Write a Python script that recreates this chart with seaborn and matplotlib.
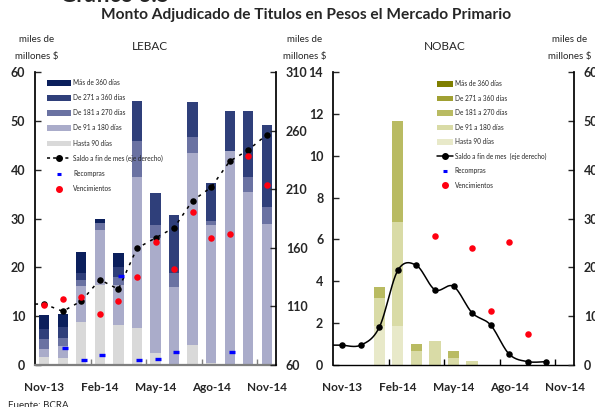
import numpy as np
import seaborn as sns
import matplotlib.pyplot as plt
from matplotlib.patches import Patch
from matplotlib.lines import Line2D

# Data
months = ['Nov-13', 'Dic-13', 'Ene-14', 'Feb-14', 'Mar-14', 'Abr-14', 'May-14',
          'Jun-14', 'Jul-14', 'Ago-14', 'Sep-14', 'Oct-14', 'Nov-14']
tick_labels = ['Nov-13', 'Feb-14', 'May-14', 'Ago-14', 'Nov-14']
series_names = ['Hasta 90 días', 'De 91 a 180 días', 'De 181 a 270 días',
                'De 271 a 360 días', 'Más de 360 días']

lebac_h90 = [1.6, 1.4, 8.8, 16.4, 8.2, 7.6, 2.5, 0, 4.1, 0.5, 0, 0, 0]
lebac_91 = [1.7, 2.5, 7.4, 11.3, 8.2, 30.8, 23.6, 16.0, 39.3, 28.2, 43.9, 35.5, 28.9]
lebac_181 = [2.0, 1.6, 1.2, 1.3, 1.7, 7.4, 2.6, 2.9, 3.2, 0.8, 0, 3.0, 3.5]
lebac_271 = [2.1, 2.2, 1.4, 0, 2.0, 8.3, 6.6, 11.9, 7.3, 7.7, 8.1, 13.5, 16.8]
lebac_360 = [2.8, 2.7, 4.3, 1.0, 2.8, 0, 0, 0, 0, 0, 0, 0, 0]
lebac_saldo = [112, 105.8, 114.6, 132.8, 124.6, 159.6, 168.4, 177.1, 200.2,
               211.6, 233.8, 243.4, 256.5]
lebac_venc = [12.2, 13.6, 13.9, 10.4, 13.2, 18.0, 25.2, 19.6, 31.4, 26.0, 26.9, 42.8, 36.8]
lebac_recompras = [np.nan, 3.5, 1.1, 2.1, 18.2, 1.1, 1.2, 2.6, np.nan, np.nan, 2.7,
                   np.nan, np.nan]

nobac_h90 = [0, 0, 1.85, 1.87, 0, 0, 0, 0, 0, 0, 0, 0, 0]
nobac_91 = [0, 0, 1.34, 4.96, 0.66, 1.13, 0.32, 0.18, 0, 0, 0, 0, 0]
nobac_181 = [0, 0, 0.53, 4.83, 0.33, 0, 0.34, 0, 0, 0, 0, 0, 0]
nobac_271 = [0] * 13
nobac_360 = [0] * 13
nobac_saldo = [4.07, 4.07, 7.74, 19.4, 20.4, 15.4, 16.1, 10.7, 8.2, 2.24, 0.69, 0.69]
nobac_venc = [np.nan, np.nan, np.nan, np.nan, np.nan, 6.16, np.nan, 5.6, 2.57, 5.89,
              1.50, np.nan, np.nan]

lebac_colors = ['#d9d9d9', '#aaacca', '#6a72a2', '#2f3f7a', '#0b1f5c']
nobac_colors = ['#e8e9c9', '#d9dba6', '#b9bb62', '#a0a032', '#7f7f00']


def smooth(xs, ys, n=24):
    # Catmull-Rom curve through the points (like the smoothed line of the original)
    P = np.column_stack([xs, ys]).astype(float)
    P = np.vstack([P[0], P, P[-1]])
    t = np.linspace(0, 1, n)[:, None]
    out = []
    for i in range(1, len(P) - 2):
        p0, p1, p2, p3 = P[i - 1], P[i], P[i + 1], P[i + 2]
        out.append(0.5 * (2 * p1 + (-p0 + p2) * t + (2 * p0 - 5 * p1 + 4 * p2 - p3) * t ** 2
                          + (-p0 + 3 * p1 - 3 * p2 + p3) * t ** 3))
    c = np.vstack(out)
    return c[:, 0], c[:, 1]


sns.set_theme(style='white')
plt.rcParams['font.family'] = ['Lato', 'DejaVu Sans']

fig = plt.figure(figsize=(5.95, 4.07), dpi=100)
ax_l = fig.add_axes([35 / 595, 42 / 407, 241 / 595, 293 / 407])
ax_n = fig.add_axes([333 / 595, 42 / 407, 241 / 595, 293 / 407])
x = np.arange(len(months))


def stacked(ax, layers, colors, width):
    bottom = np.zeros(len(months))
    for vals, c in zip(layers, colors):
        sns.barplot(x=months, y=vals, color=c, bottom=bottom, width=width,
                    saturation=1, linewidth=0, ax=ax, order=months)
        bottom = bottom + np.array(vals)


def style_axes(ax, ax2, ylim, yticks, ylim2, yticks2, bottom_color):
    ax.set_xlim(-0.5, 12.5)
    ax.set_ylim(*ylim)
    ax.set_yticks(yticks)
    ax.set_xticks([0, 3, 6, 9, 12])
    ax.set_xticklabels(tick_labels, fontsize=8.5, fontweight='bold')
    ax.set_xticks([2.5, 5.5, 8.5, 11.5], minor=True)
    ax.tick_params(axis='x', which='major', length=0, pad=12)
    ax.tick_params(axis='x', which='minor', direction='in', length=4, width=1,
                   color=bottom_color, bottom=True)
    ax.tick_params(axis='y', direction='in', length=4, width=1, left=True, pad=7,
                   labelsize=9)
    for lab in ax.get_yticklabels():
        lab.set_fontweight('bold')
    ax.set_xlabel('')
    ax.set_ylabel('')
    for s in ['top', 'right']:
        ax.spines[s].set_visible(False)
    ax.spines['left'].set_color('black')
    ax.spines['bottom'].set_color(bottom_color)
    ax.spines['bottom'].set_linewidth(1.6 if bottom_color != 'black' else 1.0)
    ax2.set_ylim(*ylim2)
    ax2.set_yticks(yticks2)
    ax2.tick_params(axis='y', direction='in', length=4, width=1, right=True, pad=7,
                    labelsize=9)
    for lab in ax2.get_yticklabels():
        lab.set_fontweight('bold')
    for s in ['top', 'left', 'bottom']:
        ax2.spines[s].set_visible(False)
    ax2.spines['right'].set_color('black')


# LEBAC
stacked(ax_l, [lebac_h90, lebac_91, lebac_181, lebac_271, lebac_360], lebac_colors, 0.55)
ax_l2 = ax_l.twinx()
sns.lineplot(x=np.r_[-0.5, x], y=np.r_[lebac_saldo[0], lebac_saldo], ax=ax_l2,
             color='black', linewidth=1.1, dashes=False, estimator=None, sort=False)
ax_l2.lines[-1].set_linestyle((0, (2, 3.5)))
sns.scatterplot(x=x, y=lebac_saldo, ax=ax_l2, color='black', s=22, linewidth=0, zorder=3)
ax_l3 = ax_l.twinx()
sns.scatterplot(x=x, y=lebac_venc, ax=ax_l3, color='#ff0010', s=22, linewidth=0, zorder=4)
sns.scatterplot(x=x + 0.12, y=lebac_recompras, ax=ax_l3, color='#0000ff', marker='_',
                s=18, linewidth=2.4, zorder=4)
ax_l3.set_ylim(0, 60)
ax_l3.axis('off')
style_axes(ax_l, ax_l2, (0, 60), range(0, 61, 10), (60, 310), range(60, 311, 50), '#7f7f7f')

# NOBAC
stacked(ax_n, [nobac_h90, nobac_91, nobac_181, nobac_271, nobac_360], nobac_colors, 0.6)
ax_n2 = ax_n.twinx()
sx, sy = smooth(x[:len(nobac_saldo)], nobac_saldo)
sns.lineplot(x=np.r_[-0.5, sx], y=np.r_[nobac_saldo[0], sy], ax=ax_n2, color='black',
             linewidth=1.1, estimator=None, sort=False)
sns.scatterplot(x=x[:len(nobac_saldo)], y=nobac_saldo, ax=ax_n2, color='black', s=22,
                linewidth=0, zorder=3)
ax_n3 = ax_n.twinx()
sns.scatterplot(x=x, y=nobac_venc, ax=ax_n3, color='#ff0010', s=22, linewidth=0, zorder=4)
ax_n3.set_ylim(0, 14)
ax_n3.axis('off')
style_axes(ax_n, ax_n2, (0, 14), range(0, 15, 2), (0, 60), range(0, 61, 10), 'black')


def legend(ax, colors, saldo_ls, saldo_label, anchor, hlen, lspace):
    handles = [Patch(facecolor=c, edgecolor='none') for c in colors[::-1]]
    handles += [Line2D([], [], color='black', linestyle=saldo_ls, linewidth=1.1,
                       marker='o', markersize=4),
                Line2D([], [], color='#0000ff', linestyle='none', marker='_',
                       markersize=3.5, markeredgewidth=2.2),
                Line2D([], [], color='#ff0010', linestyle='none', marker='o',
                       markersize=4)]
    labels = series_names[::-1] + [saldo_label, 'Recompras', 'Vencimientos']
    ax.legend(handles, labels, loc='upper left', bbox_to_anchor=anchor, frameon=False,
              fontsize=4.7, handlelength=hlen, handleheight=0.95, handletextpad=0.3,
              labelspacing=lspace, borderaxespad=0)


legend(ax_l3, lebac_colors, (0, (2, 2)), 'Saldo a fin de mes (eje derecho)',
       (0.04, 0.985), 3.7, 1.25)
legend(ax_n3, nobac_colors, '-', 'Saldo a fin de mes  (eje derecho)', (0.42, 0.98),
       2.45, 1.14)

# Texts
fig.text(60 / 595, 1 - 2 / 407, 'Gráfico 3.5', fontsize=16, fontweight='bold',
         va='baseline')
fig.text(0.515, 1 - 15 / 407, 'Monto Adjudicado de Titulos en Pesos el Mercado Primario',
         fontsize=11.2, fontweight='bold', ha='center', va='center')
fig.text(150 / 595, 1 - 47 / 407, 'LEBAC', fontsize=8.5, ha='center', va='center')
fig.text(445 / 595, 1 - 47 / 407, 'NOBAC', fontsize=8.5, ha='center', va='center')
for xc in [37, 305, 570]:
    fig.text(xc / 595, 1 - 40 / 407, 'miles de', fontsize=7, ha='center', va='center')
    fig.text(xc / 595, 1 - 57 / 407, 'millones $', fontsize=7, ha='center', va='center')
fig.text(8 / 595, 1 - 405 / 407, 'Fuente: BCRA', fontsize=7, va='center')

fig.savefig('out.png', dpi=100)
